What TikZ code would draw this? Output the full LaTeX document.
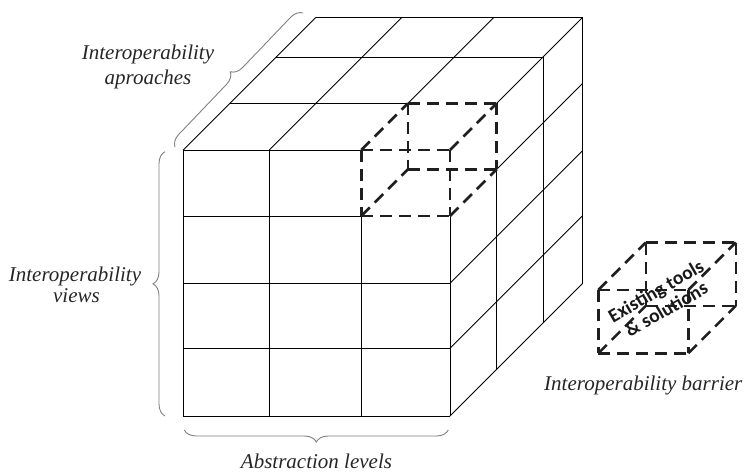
\documentclass[tikz,border=0pt]{standalone}
\usepackage{fontspec}
\setmainfont{Liberation Serif}
\newfontfamily\calib{Carlito}
\usetikzlibrary{decorations.pathreplacing}
\newcommand\dashcube[5]{%
  \draw[dsh] (#1,#3,0) -- (#2,#3,0);
  \draw[dsh] (#1,#4,0) -- (#2,#4,0);
  \draw[dsh] (#1,#3,0) -- (#1,#4,0);
  \draw[dsh] (#2,#3,0) -- (#2,#4,0);
  \draw[dsh] (#1,#3,#5) -- (#2,#3,#5);
  \draw[dsh] (#1,#4,#5) -- (#2,#4,#5);
  \draw[dsh] (#1,#3,#5) -- (#1,#4,#5);
  \draw[dsh] (#2,#3,#5) -- (#2,#4,#5);
  \draw[dsh] (#1,#3,0) -- (#1,#3,#5);
  \draw[dsh] (#2,#3,0) -- (#2,#3,#5);
  \draw[dsh] (#1,#4,0) -- (#1,#4,#5);
  \draw[dsh] (#2,#4,0) -- (#2,#4,#5);
}
\begin{document}
\begin{tikzpicture}[x={(1pt,0pt)}, y={(0pt,-1pt)}, z={(1pt,1pt)},
  grid/.style={line width=0.8pt, black},
  dsh/.style={line width=2.6pt, dash pattern=on 12pt off 7pt, color=black!88},
  brc/.style={decorate, decoration={brace, amplitude=12pt}, draw=black!50, line width=0.9pt},
  lbl/.style={font=\fontsize{21}{25}\selectfont\itshape, text=black!85, inner sep=0pt, anchor=base},
]
\useasboundingbox (0,0) rectangle (747,472);
% front face
\draw[grid] (183.3,150,0) -- (183.3,416,0);
\draw[grid] (269.3,150,0) -- (269.3,416,0);
\draw[grid] (361.3,216,0) -- (361.3,416,0);
\draw[grid] (450,216,0) -- (450,416,0);
\draw[grid] (183.3,150,0) -- (361.3,150,0);
\draw[grid] (183.3,216,0) -- (361.3,216,0);
\foreach \yy in {283.3,348.3,416} \draw[grid] (183.3,\yy,0) -- (450,\yy,0);
% top face
\draw[grid] (183.3,150,0) -- (183.3,150,132.5);
\draw[grid] (269.3,150,0) -- (269.3,150,132.5);
\draw[grid] (361.3,150,46.7) -- (361.3,150,132.5);
\draw[grid] (450,150,46.7) -- (450,150,132.5);
\draw[grid] (183.3,150,46.7) -- (361.3,150,46.7);
\draw[grid] (183.3,150,93) -- (450,150,93);
\draw[grid] (183.3,150,132.5) -- (450,150,132.5);
% right face
\draw[grid] (450,216,46.7) -- (450,216,132.5);
\foreach \yy in {283.3,348.3,416} \draw[grid] (450,\yy,0) -- (450,\yy,132.5);
\draw[grid] (450,216,46.7) -- (450,416,46.7);
\draw[grid] (450,150,93) -- (450,416,93);
\draw[grid] (450,150,132.5) -- (450,416,132.5);
% highlighted cell
\dashcube{361.3}{450}{150}{216}{46.7}
% barrier cube
\dashcube{598.3}{688.3}{290}{353.3}{47.5}
\node[font=\calib\bfseries\fontsize{19.5}{21}\selectfont, rotate=30, align=center, inner sep=0pt, text=black!90] (ets) at (661,300) {Existing tools\\\& solutions};
% braces
\draw[brc] (448.3,430) -- (184.3,430);
\draw[brc] (165,416) -- (165,151.7);
\draw[brc] (175,147) -- (303,13);
% labels
\node[lbl] (ia1) at (148,59) {Interoperability};
\node[lbl] (ia2) at (148,84) {aproaches};
\node[lbl] (iv1) at (75,281) {Interoperability};
\node[lbl] (iv2) at (76.5,302) {views};
\node[lbl] (al) at (316.5,468) {Abstraction levels};
\node[lbl] (ib) at (643.3,390) {Interoperability barrier};
\end{tikzpicture}
\end{document}
